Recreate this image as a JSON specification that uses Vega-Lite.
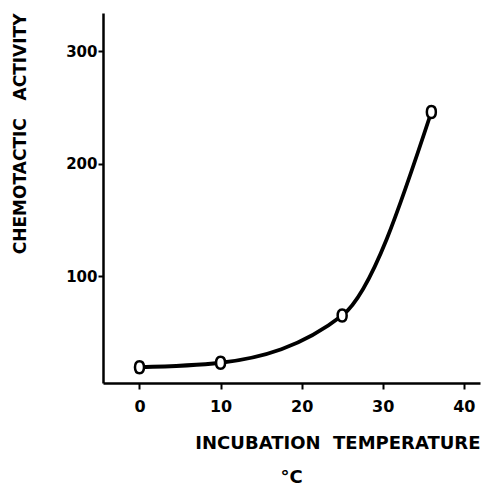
{
  "$schema": "https://vega.github.io/schema/vega-lite/v6.json",
  "width": 377,
  "height": 370,
  "autosize": {"type": "none"},
  "padding": {"left": 103, "top": 13, "right": 6, "bottom": 106},
  "background": "white",
  "title": {
    "text": "°C",
    "orient": "bottom",
    "anchor": "middle",
    "font": "DejaVu Sans",
    "fontWeight": "bold",
    "fontSize": 18,
    "color": "black",
    "offset": 17
  },
  "config": {
    "view": {"stroke": null},
    "axis": {
      "grid": false,
      "domainColor": "black",
      "domainWidth": 2.5,
      "tickColor": "black",
      "tickWidth": 2,
      "labelFont": "DejaVu Sans",
      "labelFontWeight": "bold",
      "labelColor": "black",
      "titleFont": "DejaVu Sans",
      "titleFontWeight": "bold",
      "titleColor": "black"
    }
  },
  "data": {
    "values": [
      {"temp": 0, "activity": 19},
      {"temp": 10, "activity": 23},
      {"temp": 25, "activity": 65},
      {"temp": 36, "activity": 246}
    ]
  },
  "encoding": {
    "x": {
      "field": "temp",
      "type": "quantitative",
      "scale": {"domain": [-4.5, 42], "nice": false, "zero": false},
      "axis": {
        "values": [0, 10, 20, 30, 40],
        "title": "INCUBATION\u00a0\u00a0TEMPERATURE",
        "titleAnchor": "end",
        "titleFontSize": 18,
        "titleLetterSpacing": 0.6,
        "titlePadding": 20,
        "labelFontSize": 16,
        "tickSize": 6,
        "labelPadding": 9
      }
    },
    "y": {
      "field": "activity",
      "type": "quantitative",
      "scale": {"domain": [5, 334], "nice": false, "zero": false},
      "axis": {
        "values": [100, 200, 300],
        "title": "CHEMOTACTIC\u00a0\u00a0\u00a0ACTIVITY",
        "titleAnchor": "end",
        "titleFontSize": 17,
        "titleLetterSpacing": 0.5,
        "titlePadding": 36,
        "labelFontSize": 15,
        "tickSize": 5,
        "labelPadding": 1
      }
    }
  },
  "layer": [
    {
      "mark": {"type": "line", "interpolate": "monotone", "color": "black", "strokeWidth": 3.8}
    },
    {
      "mark": {
        "type": "point",
        "shape": "M0,-1 C0.55,-1 0.75,-0.55 0.75,0 C0.75,0.55 0.55,1 0,1 C-0.55,1 -0.75,0.55 -0.75,0 C-0.75,-0.55 -0.55,-1 0,-1 Z",
        "filled": false,
        "fill": "white",
        "fillOpacity": 1,
        "stroke": "black",
        "strokeWidth": 2.5,
        "opacity": 1,
        "size": 144
      }
    }
  ]
}
